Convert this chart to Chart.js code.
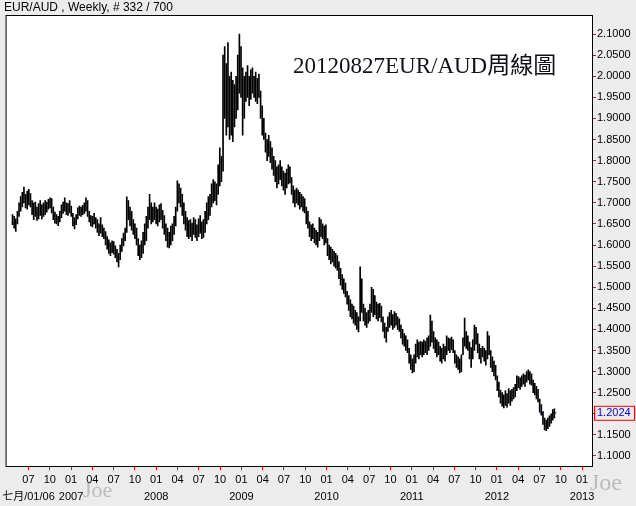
<!DOCTYPE html>
<html>
<head>
<meta charset="utf-8">
<script src="https://cdn.jsdelivr.net/npm/chart.js@4/dist/chart.umd.min.js"></script>
<style>
  html, body { margin: 0; padding: 0; background: #ececec; }
  #wrap { width: 636px; height: 506px; }
</style>
</head>
<body>
<div id="wrap"><canvas id="chart" width="636" height="506"></canvas></div>
<script>
// weekly EUR/AUD bars, first bar late April 2006, last bar 2012-08-27
const firstWeek = 2006.3125;
const weekLow = [
  1.648,1.640,1.632,1.650,1.668,1.680,1.690,1.700,1.688,1.685,
  1.695,1.690,1.672,1.660,1.668,1.658,1.662,1.670,1.662,1.668,
  1.672,1.678,1.685,1.688,1.676,1.660,1.652,1.650,1.646,1.655,
  1.665,1.675,1.680,1.672,1.670,1.676,1.668,1.645,1.638,1.648,
  1.662,1.670,1.668,1.672,1.675,1.680,1.668,1.655,1.645,1.643,
  1.650,1.640,1.630,1.622,1.628,1.620,1.615,1.600,1.590,1.580,
  1.575,1.582,1.578,1.570,1.560,1.548,1.565,1.585,1.598,1.610,
  1.630,1.660,1.645,1.635,1.625,1.615,1.600,1.575,1.565,1.570,
  1.580,1.600,1.610,1.640,1.660,1.650,1.655,1.660,1.650,1.645,
  1.655,1.660,1.640,1.625,1.610,1.595,1.593,1.600,1.610,1.625,
  1.645,1.680,1.700,1.690,1.670,1.650,1.635,1.620,1.615,1.620,
  1.610,1.625,1.618,1.610,1.620,1.628,1.615,1.618,1.630,1.650,
  1.660,1.670,1.690,1.700,1.705,1.695,1.720,1.740,1.750,1.775,
  1.900,1.860,1.880,1.850,1.860,1.845,1.880,1.900,1.920,1.960,
  1.950,1.860,1.900,1.940,1.950,1.930,1.945,1.960,1.950,1.940,
  1.935,1.950,1.900,1.860,1.850,1.820,1.800,1.810,1.795,1.780,
  1.765,1.750,1.735,1.745,1.755,1.740,1.730,1.720,1.735,1.745,
  1.747,1.720,1.700,1.690,1.700,1.695,1.685,1.690,1.680,1.676,
  1.650,1.640,1.620,1.610,1.615,1.605,1.600,1.595,1.610,1.620,
  1.615,1.600,1.605,1.575,1.565,1.555,1.560,1.550,1.545,1.540,
  1.520,1.505,1.495,1.485,1.477,1.460,1.445,1.430,1.425,1.415,
  1.410,1.400,1.394,1.420,1.440,1.420,1.410,1.405,1.415,1.420,
  1.440,1.430,1.435,1.425,1.420,1.428,1.418,1.395,1.380,1.370,
  1.395,1.405,1.410,1.400,1.405,1.410,1.400,1.395,1.380,1.365,
  1.360,1.350,1.345,1.320,1.305,1.297,1.300,1.320,1.335,1.330,
  1.340,1.335,1.340,1.345,1.340,1.350,1.360,1.370,1.355,1.345,
  1.335,1.340,1.325,1.320,1.330,1.325,1.340,1.350,1.345,1.352,
  1.345,1.320,1.310,1.305,1.297,1.300,1.340,1.360,1.355,1.350,
  1.330,1.310,1.330,1.350,1.365,1.345,1.330,1.320,1.335,1.325,
  1.315,1.330,1.340,1.310,1.300,1.290,1.280,1.255,1.240,1.225,
  1.218,1.214,1.220,1.216,1.225,1.220,1.230,1.235,1.240,1.255,
  1.262,1.258,1.265,1.270,1.265,1.275,1.280,1.270,1.268,1.250,
  1.245,1.235,1.228,1.205,1.197,1.175,1.162,1.160,1.165,1.170,
  1.178,1.185,1.190
];
const weekHigh = [
  1.672,1.668,1.662,1.680,1.700,1.715,1.725,1.737,1.720,1.728,
  1.732,1.722,1.705,1.700,1.702,1.690,1.698,1.705,1.695,1.700,
  1.705,1.702,1.708,1.712,1.710,1.690,1.678,1.672,1.668,1.680,
  1.695,1.702,1.712,1.700,1.698,1.705,1.692,1.675,1.665,1.672,
  1.688,1.692,1.690,1.694,1.700,1.712,1.705,1.680,1.670,1.668,
  1.675,1.665,1.660,1.650,1.665,1.648,1.640,1.632,1.620,1.612,
  1.605,1.610,1.608,1.598,1.590,1.580,1.600,1.615,1.628,1.640,
  1.714,1.705,1.690,1.680,1.660,1.650,1.640,1.615,1.600,1.610,
  1.630,1.650,1.668,1.690,1.720,1.700,1.690,1.700,1.690,1.685,
  1.695,1.698,1.682,1.670,1.650,1.640,1.630,1.645,1.650,1.668,
  1.690,1.752,1.745,1.735,1.720,1.700,1.680,1.665,1.658,1.660,
  1.652,1.665,1.660,1.648,1.662,1.670,1.655,1.660,1.680,1.700,
  1.715,1.720,1.745,1.755,1.750,1.745,1.790,1.830,1.810,2.050,
  2.070,2.030,2.080,2.000,2.010,1.990,1.980,2.000,2.050,2.100,
  2.070,2.020,2.000,2.010,2.025,2.000,2.015,2.020,2.000,2.010,
  1.995,2.005,1.965,1.930,1.900,1.865,1.850,1.860,1.845,1.830,
  1.810,1.800,1.785,1.790,1.800,1.785,1.775,1.770,1.780,1.790,
  1.785,1.760,1.740,1.730,1.735,1.730,1.725,1.720,1.715,1.710,
  1.690,1.680,1.655,1.648,1.650,1.640,1.635,1.630,1.665,1.660,
  1.650,1.645,1.648,1.615,1.600,1.595,1.590,1.585,1.580,1.575,
  1.560,1.545,1.530,1.520,1.510,1.490,1.480,1.470,1.460,1.455,
  1.445,1.440,1.430,1.548,1.520,1.460,1.450,1.440,1.445,1.460,
  1.500,1.495,1.480,1.465,1.460,1.462,1.455,1.430,1.415,1.405,
  1.430,1.440,1.445,1.435,1.442,1.438,1.430,1.425,1.410,1.400,
  1.390,1.385,1.375,1.355,1.340,1.330,1.340,1.365,1.375,1.370,
  1.372,1.370,1.375,1.372,1.380,1.385,1.434,1.420,1.395,1.380,
  1.375,1.370,1.360,1.355,1.365,1.360,1.385,1.380,1.378,1.382,
  1.375,1.350,1.340,1.335,1.330,1.340,1.380,1.427,1.395,1.385,
  1.370,1.357,1.375,1.410,1.405,1.390,1.365,1.355,1.360,1.355,
  1.350,1.395,1.385,1.350,1.335,1.325,1.315,1.290,1.275,1.256,
  1.250,1.245,1.255,1.248,1.260,1.255,1.258,1.262,1.270,1.290,
  1.288,1.285,1.290,1.295,1.292,1.300,1.304,1.300,1.295,1.280,
  1.272,1.265,1.258,1.235,1.222,1.205,1.190,1.185,1.190,1.195,
  1.200,1.210,1.212
];
const lastPrice = 1.2024;
const markerWeeks = [324, 332];

// axis ticks
const quarterTicks = [];
const quarterLabels = ['07','10','01','04','07','10','01','04','07','10','01','04','07','10',
  '01','04','07','10','01','04','07','10','01','04','07','10','01'];
const yearLabels = {0: '七月/01/06', 2: '2007', 6: '2008', 10: '2009', 14: '2010', 18: '2011', 22: '2012', 26: '2013'};
for (let k = 0; k < quarterLabels.length; k++) quarterTicks.push(2006.5 + k * 0.25);
const priceTicks = [];
for (let k = 0; k <= 20; k++) priceTicks.push(+(1.10 + k * 0.05).toFixed(2));

function weekDate(i) { return firstWeek + i * 7 / 365.25; }

const bars = weekLow.map((lo, i) => ({ x: weekDate(i), y: [lo, weekHigh[i]] }));
const markers = markerWeeks.map(w => ({ x: weekDate(w), y: lastPrice }));

const decor = {
  id: 'decor',
  beforeDraw(chart) {
    const a = chart.chartArea;
    chart.ctx.save();
    chart.ctx.fillStyle = '#fff';
    chart.ctx.fillRect(a.left, a.top, a.right - a.left, a.bottom - a.top);
    chart.ctx.restore();
  },
  afterDraw(chart) {
    const ctx = chart.ctx;
    const a = chart.chartArea;
    ctx.save();
    ctx.strokeStyle = '#000';
    ctx.lineWidth = 1;
    ctx.strokeRect(a.left - 0.5, a.top - 0.5, a.right - a.left + 1, a.bottom - a.top + 1);

    ctx.fillStyle = '#000';
    ctx.font = '12px "Liberation Sans", Arial, sans-serif';
    ctx.textBaseline = 'middle';
    ctx.textAlign = 'left';
    ctx.fillText('EUR/AUD , Weekly, # 332 / 700', 4, 8);

    ctx.font = '23px "Liberation Serif", "Noto Sans CJK TC", serif';
    ctx.textBaseline = 'alphabetic';
    ctx.fillStyle = '#101018';
    ctx.fillText('20120827EUR/AUD周線圖', 293, 73);

    // last price box on the right axis
    const y = chart.scales.y.getPixelForValue(lastPrice);
    ctx.fillStyle = '#ececec';
    ctx.fillRect(594, y - 7, 40, 14);
    ctx.strokeStyle = '#ff0000';
    ctx.strokeRect(594.5, y - 6.5, 40, 14);
    ctx.fillStyle = '#0000ff';
    ctx.font = '11px "Liberation Sans", Arial, sans-serif';
    ctx.textBaseline = 'middle';
    ctx.fillText(lastPrice.toFixed(4), 597, y + 0.5);

    // watermarks
    ctx.fillStyle = 'rgba(150,150,150,0.55)';
    ctx.font = '22px "Liberation Serif", serif';
    ctx.textBaseline = 'alphabetic';
    ctx.fillText('Joe', 83, 497);
    ctx.font = '24px "Liberation Serif", serif';
    ctx.fillText('Joe', 590, 490);
    ctx.restore();
  }
};

new Chart(document.getElementById('chart'), {
  data: {
    datasets: [
      {
        type: 'bar',
        data: bars,
        backgroundColor: '#000',
        borderWidth: 0,
        barThickness: 1,
        grouped: false
      },
      {
        type: 'scatter',
        data: markers,
        pointStyle: 'line',
        radius: 2,
        borderColor: '#0000ff',
        borderWidth: 1
      }
    ]
  },
  options: {
    responsive: false,
    animation: false,
    layout: { padding: { left: 4, top: 16, right: 0, bottom: 0 } },
    plugins: { legend: { display: false }, tooltip: { enabled: false } },
    scales: {
      x: {
        type: 'linear',
        offset: false,
        min: 2006.2428,
        max: 2013.117,
        afterBuildTicks: s => { s.ticks = quarterTicks.map(v => ({ value: v })); },
        afterFit: s => { s.height = 40; },
        grid: { offset: false, drawOnChartArea: false, tickColor: '#ff0000', tickLength: 4 },
        border: { color: '#000' },
        ticks: {
          autoSkip: false,
          maxRotation: 0,
          padding: 2,
          color: '#000',
          font: { family: '"Liberation Sans", "Noto Sans CJK TC", Arial, sans-serif', size: 11, lineHeight: 1.5 },
          callback: (v, k) => [quarterLabels[k], yearLabels[k] || '']
        }
      },
      y: {
        position: 'right',
        min: 1.0763,
        max: 2.1427,
        afterBuildTicks: s => { s.ticks = priceTicks.map(v => ({ value: v })); },
        afterFit: s => { s.width = 44; },
        grid: { drawOnChartArea: false, tickColor: '#ff0000', tickLength: 4 },
        border: { color: '#000' },
        ticks: {
          padding: 1,
          color: '#000',
          font: { family: '"Liberation Sans", Arial, sans-serif', size: 11 },
          callback: v => v.toFixed(4)
        }
      }
    }
  },
  plugins: [decor]
});
</script>
</body>
</html>
